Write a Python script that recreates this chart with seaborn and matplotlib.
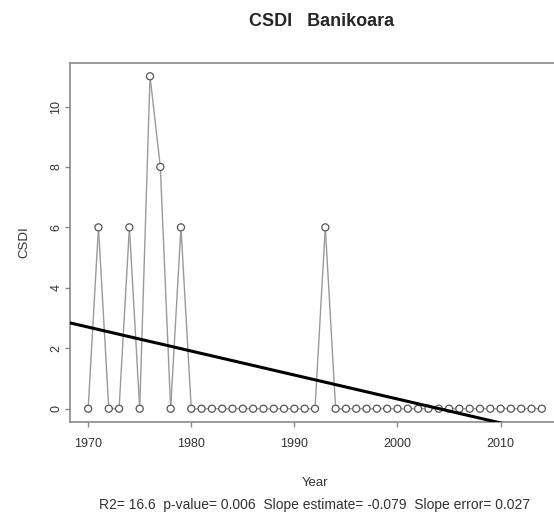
import numpy as np
import pandas as pd
import matplotlib
matplotlib.use("Agg")
import matplotlib.pyplot as plt
import seaborn as sns

# CSDI Banikoara, serie anual
years = np.arange(1970, 2015)
csdi = [0, 6, 0, 0, 6, 0, 11, 8, 0, 6,
        0, 0, 0, 0, 0, 0, 0, 0, 0, 0,
        0, 0, 0, 6, 0, 0, 0, 0, 0, 0,
        0, 0, 0, 0, 0, 0, 0, 0, 0, 0,
        0, 0, 0, 0, 0]
x_ticks = [1970, 1980, 1990, 2000, 2010]
y_ticks = [0, 2, 4, 6, 8, 10]
title = "CSDI   Banikoara"
stats = "R2= 16.6  p-value= 0.006  Slope estimate= -0.079  Slope error= 0.027"

df = pd.DataFrame({"Year": years, "CSDI": csdi})

sns.set_style("white")
plt.rcParams["font.family"] = ["Liberation Sans", "DejaVu Sans"]

fig = plt.figure(figsize=(5.54, 5.14), dpi=100)
W, H = 554, 514
# left 70px, right 560px (cortado), top 63px, bottom 422px
ax = fig.add_axes([70 / W, 1 - 422 / H, 490 / W, 359 / H])

# rango tipo R (extension 4%)
xr = years.max() - years.min()
yr = max(csdi) - min(csdi)
xlim = (years.min() - 0.04 * xr, years.max() + 0.04 * xr)
ylim = (min(csdi) - 0.04 * yr, max(csdi) + 0.04 * yr)
ax.set_xlim(xlim)
ax.set_ylim(ylim)

# lineas tipo "b" (con huecos alrededor de los puntos)
for i in range(len(df) - 1):
    ax.annotate("", xy=(df.Year[i + 1], df.CSDI[i + 1]), xytext=(df.Year[i], df.CSDI[i]),
                arrowprops=dict(arrowstyle="-", color="#9a9a9a", lw=1.0,
                                shrinkA=3.2, shrinkB=3.2))

sns.scatterplot(data=df, x="Year", y="CSDI", ax=ax, s=26, marker="o",
                facecolor="none", edgecolor="#555555", linewidth=0.9, zorder=3)

sns.regplot(data=df, x="Year", y="CSDI", ax=ax, scatter=False, ci=None,
            truncate=False, color="black", line_kws={"lw": 2.2, "zorder": 4})

ax.set_xlim(xlim)
ax.set_ylim(ylim)

ax.set_xticks(x_ticks)
ax.set_yticks(y_ticks)
ax.set_yticklabels([str(v) for v in y_ticks], rotation=90, va="center")
ax.tick_params(axis="both", direction="out", length=3.6, width=1, color="#8a8a8a",
               labelsize=9, labelcolor="#333333", bottom=True, left=True)
ax.tick_params(axis="x", pad=8)
ax.tick_params(axis="y", pad=2)
for s in ax.spines.values():
    s.set_color("#8a8a8a")
    s.set_linewidth(1.2)

ax.set_xlabel("Year", fontsize=9.5, color="#333333", labelpad=19)
ax.set_ylabel("CSDI", fontsize=9.5, color="#333333", labelpad=14)

fig.text(322 / W, 1 - 22 / H, title, ha="center", va="center",
         fontsize=13, fontweight="bold")
fig.text(315 / W, 1 - 505 / H, stats, ha="center", va="center",
         fontsize=10, color="#333333")

fig.savefig("out.png", dpi=100)
